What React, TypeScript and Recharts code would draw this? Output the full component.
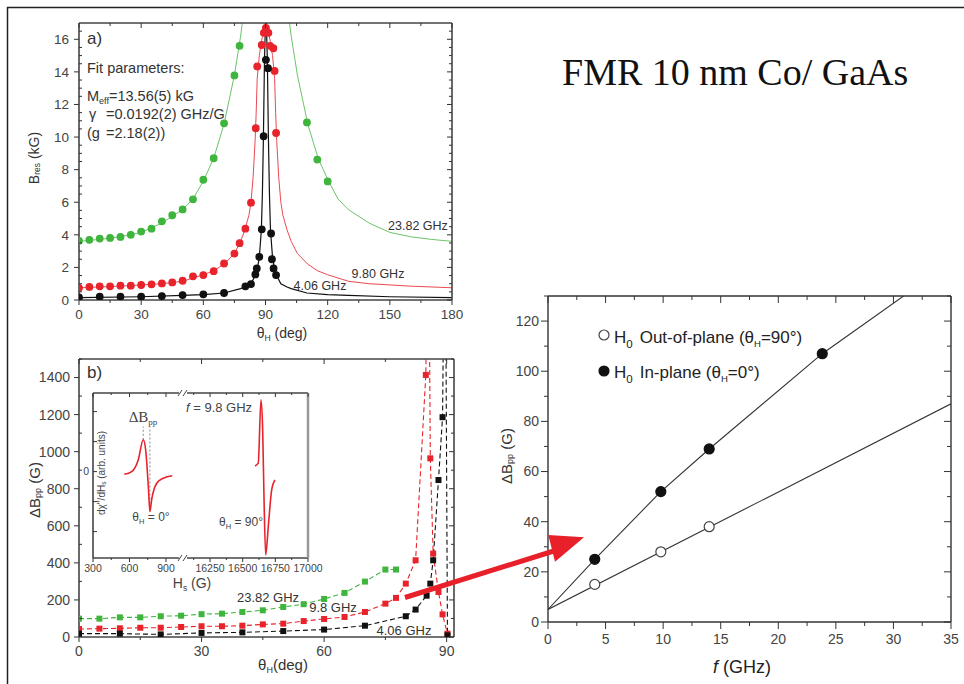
import React from 'react';
import { ComposedChart, Line, Scatter, XAxis, YAxis, ReferenceLine, Legend } from 'recharts';

const SANS = "'Liberation Sans', Arial, Helvetica, sans-serif";
const SERIF = "'Liberation Serif', 'Times New Roman', serif";

// ---------------- Panel a: B_res vs theta_H ----------------
const aGreenTheta = [0, 5, 10, 15, 20, 25, 30, 35, 40, 45, 50, 55, 60, 65, 70, 75, 77.5, 110, 115, 120];
const aGreenB = [3.63, 3.69, 3.77, 3.81, 3.87, 4.0, 4.2, 4.38, 4.83, 5.2, 5.56, 6.18, 7.38, 8.7, 10.84, 13.78, 15.6, 10.9, 8.62, 7.28];
const aGreenFitTheta = [0, 10, 20, 30, 40, 50, 55, 60, 65, 70, 75, 78, 79.3, 101.1, 102.4, 105.4, 110.4, 115.4, 120.4, 125, 130, 140, 150, 160, 170, 180];
const aGreenFitB = [3.6, 3.72, 3.88, 4.15, 4.72, 5.55, 6.2, 7.3, 8.7, 10.8, 13.8, 16.2, 17.5, 17.5, 16.2, 13.8, 10.8, 8.7, 7.3, 6.2, 5.55, 4.72, 4.15, 3.88, 3.72, 3.6];

const aRedTheta = [0, 5, 10, 15, 20, 25, 30, 35, 40, 45, 50, 55, 60, 65, 70, 75, 77.5, 80.3, 83, 85.3, 86, 88.2, 89.2, 90.2, 91.4, 92.2, 93.8, 94.4, 95.1];
const aRedB = [0.75, 0.8, 0.84, 0.84, 0.88, 0.88, 0.92, 0.96, 1.02, 1.08, 1.18, 1.45, 1.53, 1.77, 2.24, 2.85, 3.49, 4.38, 5.97, 10.54, 14.33, 15.65, 16.4, 16.7, 16.4, 15.6, 15.45, 14.06, 10.25];
const aRedFitTheta = [0, 20, 40, 50, 55, 60, 65, 70, 75, 78, 80, 82, 83, 84, 85, 85.5, 86, 87, 88, 89, 90.2, 91.4, 92.4, 93.4, 94.4, 94.9, 95.4, 96.4, 97.4, 98.4, 100.4, 102.4, 105.4, 110.4, 115, 120, 125, 130, 140, 160, 180];
const aRedFitB = [0.75, 0.85, 1.0, 1.15, 1.35, 1.55, 1.8, 2.2, 2.85, 3.6, 4.3, 5.2, 6.0, 7.5, 9.8, 11.5, 13.6, 15.0, 15.8, 16.5, 16.9, 16.5, 15.8, 15.0, 13.6, 11.5, 9.8, 7.5, 6.0, 5.2, 4.3, 3.6, 2.85, 2.2, 1.8, 1.55, 1.35, 1.15, 1.0, 0.85, 0.75];

const aBlackTheta = [0, 10, 20, 30, 40, 50, 60, 70, 80.3, 83, 85.1, 85.8, 87, 88.2, 89.1, 90.2, 91.2, 92.7, 93.1, 93.9, 95.1];
const aBlackB = [0.16, 0.2, 0.2, 0.2, 0.24, 0.3, 0.35, 0.43, 0.84, 0.98, 1.57, 1.94, 2.65, 4.34, 10.05, 14.74, 14.23, 4.08, 2.5, 1.94, 1.53];
const aBlackFitTheta = [0, 30, 50, 60, 70, 78, 80, 83, 85, 86, 87, 88, 88.5, 89, 89.5, 90.2, 90.9, 91.4, 91.9, 92.4, 93.4, 94.4, 95.4, 97.4, 100.4, 102.4, 110, 120, 130, 150, 180];
const aBlackFitB = [0.15, 0.2, 0.28, 0.33, 0.43, 0.7, 0.8, 1.0, 1.5, 1.9, 2.6, 4.3, 6.5, 10, 14.7, 18, 14.7, 10, 6.5, 4.3, 2.6, 1.9, 1.5, 1.0, 0.8, 0.7, 0.43, 0.33, 0.28, 0.2, 0.15];

const aXMajor = [0, 30, 60, 90, 120, 150, 180];
const aXTicks = [0, 15, 30, 45, 60, 75, 90, 105, 120, 135, 150, 165, 180];
const aYMajor = [0, 2, 4, 6, 8, 10, 12, 14, 16];
const aYTicks = [0, 0.5, 1, 1.5, 2, 2.5, 3, 3.5, 4, 4.5, 5, 5.5, 6, 6.5, 7, 7.5, 8, 8.5, 9, 9.5, 10, 10.5, 11, 11.5, 12, 12.5, 13, 13.5, 14, 14.5, 15, 15.5, 16, 16.5];

// ---------------- Panel b: linewidth vs theta_H ----------------
const bGreenTheta = [0, 5, 10, 15, 20, 25, 30, 35, 40, 45, 50, 55, 60, 65, 70, 75, 77.6];
const bGreenVal = [99, 99, 106, 106, 112, 115, 123, 126, 135, 144, 162, 177, 205, 238, 299, 364, 364];

const bRedTheta = [0, 5, 10, 15, 20, 25, 30, 35, 40, 45, 50, 55, 60, 65, 70, 75, 77.6, 80, 82.4, 84.9, 86, 86.7, 88, 89, 90.2];
const bRedVal = [43, 45, 47, 50, 50, 54, 58, 58, 61, 68, 72, 86, 97, 108, 135, 180, 211, 288, 414, 1414, 964, 450, 243, 122, 18];
const bRedPeakTheta = [85.5];
const bRedPeakVal = [2600];

const bBlackTheta = [0, 10, 20, 30, 40, 50, 60, 70, 80, 82.4, 85.1, 86, 86.7, 88, 89, 90.2];
const bBlackVal = [18, 18, 14, 22, 25, 32, 40, 61, 112, 148, 223, 288, 414, 847, 1186, 9];
const bBlackPeakTheta = [89.6];
const bBlackPeakVal = [2600];

const bXMajor = [0, 30, 60, 90];
const bXTicks = [0, 15, 30, 45, 60, 75, 90];
const bYMajor = [0, 200, 400, 600, 800, 1000, 1200, 1400];
const bYTicks = [0, 100, 200, 300, 400, 500, 600, 700, 800, 900, 1000, 1100, 1200, 1300, 1400, 1500];

// ---------------- Panel b inset: derivative spectra ----------------
const insLeftH = [557, 618, 672, 713, 733, 755, 768, 782, 824, 878, 952];
const insLeftS = [-0.09, 0.0, 0.39, 1.06, 0.72, -0.5, -1.33, -0.94, -0.39, -0.22, -0.14];
const insRightH = [16594, 16619, 16640, 16653, 16663, 16676, 16696, 16722, 16747];
const insRightS = [0.19, 0.28, 2.39, 1.39, -0.83, -2.78, -1.83, -0.61, -0.28];
const insLeftMajor = [300, 600, 900];
const insLeftTicks = [300, 450, 600, 750, 900];
const insRightMajor = [16250, 16500, 16750, 17000];
const insRightTicks = [16125, 16250, 16375, 16500, 16625, 16750, 16875, 17000];
const insYTicks = [-2, -1, 0, 1, 2];
const insPeakH = 713;
const insTroughH = 768;

// ---------------- Panel c: linewidth vs frequency ----------------
const cInFreq = [4.06, 9.8, 14.0, 23.82];
const cInDB = [25, 52, 69, 107];
const cOutFreq = [4.06, 9.8, 14.0];
const cOutDB = [15, 28, 38];
const cInFitFreq = [0, 4.06, 9.8, 14.0, 23.82, 31.5];
const cInFitDB = [5, 25, 52, 69, 107, 132];
const cOutFitFreq = [0, 35];
const cOutFitDB = [5, 87];
const cXMajor = [0, 5, 10, 15, 20, 25, 30, 35];
const cXTicks = [0, 2.5, 5, 7.5, 10, 12.5, 15, 17.5, 20, 22.5, 25, 27.5, 30, 32.5, 35];
const cYMajor = [0, 20, 40, 60, 80, 100, 120];
const cYTicks = [0, 10, 20, 30, 40, 50, 60, 70, 80, 90, 100, 110, 120, 130];

const pts = (xs: number[], ys: number[]) => xs.map((x, i) => ({ x, y: ys[i] }));
const merged = (xs: number[], ys: number[], px: number[], py: number[]) =>
  [...pts(xs, ys), ...pts(px, py)].sort((a, b) => a.x - b.x);

type Side = 'left' | 'right' | 'top' | 'bottom';
interface TickOpts { labels?: boolean; fontSize?: number; fill?: string; gap?: number; only?: number[]; stroke?: string; }
const near = (a: number, b: number) => Math.abs(a - b) < 1e-6;

function makeTick(side: Side, majors: number[], majorLen: number, minorLen: number, o: TickOpts = {}) {
  const { labels = true, fontSize = 13.5, fill = '#444', gap = 3, only, stroke = '#333' } = o;
  return (props: any) => {
    const x = Number(props.x);
    const y = Number(props.y);
    const v = Number(props.payload ? props.payload.value : NaN);
    const major = majors.some((m) => near(m, v));
    const len = major ? majorLen : minorLen;
    const show = labels && major && (!only || only.some((m) => near(m, v)));
    const out = Math.max(len, 0);
    const tp = { fontFamily: SANS, fontSize, fill };
    if (side === 'left') {
      return (
        <g>
          <line x1={x} y1={y} x2={x - len} y2={y} stroke={stroke} strokeWidth={1} />
          {show && <text x={x - out - gap} y={y} dy="0.35em" textAnchor="end" {...tp}>{v}</text>}
        </g>
      );
    }
    if (side === 'right') {
      return (
        <g>
          <line x1={x} y1={y} x2={x + len} y2={y} stroke={stroke} strokeWidth={1} />
          {show && <text x={x + out + gap} y={y} dy="0.35em" textAnchor="start" {...tp}>{v}</text>}
        </g>
      );
    }
    if (side === 'top') {
      return (
        <g>
          <line x1={x} y1={y} x2={x} y2={y - len} stroke={stroke} strokeWidth={1} />
          {show && <text x={x} y={y - out - gap} textAnchor="middle" {...tp}>{v}</text>}
        </g>
      );
    }
    return (
      <g>
        <line x1={x} y1={y} x2={x} y2={y + len} stroke={stroke} strokeWidth={1} />
        {show && <text x={x} y={y + out + gap} dy="0.71em" textAnchor="middle" {...tp}>{v}</text>}
      </g>
    );
  };
}

const dotShape = (r: number, fill: string, stroke?: string) => (p: any) => (
  <circle cx={p.cx} cy={p.cy} r={r} fill={fill} stroke={stroke || fill} strokeWidth={1.2} />
);
const squareShape = (s: number, fill: string) => (p: any) => (
  <rect x={p.cx - s / 2} y={p.cy - s / 2} width={s} height={s} fill={fill} />
);

const axisA = { stroke: '#444', strokeWidth: 1.6 };
const axisC = { stroke: '#333', strokeWidth: 1.4 };
const common = { tickSize: 0, tickMargin: 0, tickLine: false, interval: 0 as const, allowDataOverflow: true };

const GREEN_L = '#6cc46a';
const GREEN_D = '#3fb53d';
const RED_L = '#ea4a50';
const RED_D = '#e8232b';
const BLACK = '#111';

function PanelA() {
  return (
    <ComposedChart width={470} height={345} margin={{ top: 23, right: 18, bottom: 20, left: 0 }}>
      <XAxis type="number" dataKey="x" domain={[0, 180]} ticks={aXTicks} height={25} axisLine={axisA}
        tick={makeTick('bottom', aXMajor, 5, 3, { gap: 4 })} {...common} />
      <XAxis xAxisId="top" orientation="top" mirror type="number" dataKey="x" domain={[0, 180]} ticks={aXTicks} height={5}
        axisLine={axisA} tick={makeTick('top', aXMajor, -5, -3, { labels: false })} {...common} />
      <YAxis type="number" dataKey="y" domain={[0, 17]} ticks={aYTicks} width={79} axisLine={axisA}
        tick={makeTick('left', aYMajor, 5, -3, { gap: 5 })} {...common} />
      <YAxis yAxisId="right" orientation="right" mirror type="number" dataKey="y" domain={[0, 17]} ticks={aYTicks} width={5}
        axisLine={axisA} tick={makeTick('right', aYMajor, -5, -3, { labels: false })} {...common} />
      <Line data={pts(aGreenFitTheta, aGreenFitB)} dataKey="y" stroke={GREEN_L} strokeWidth={1} dot={false} isAnimationActive={false} />
      <Line data={pts(aRedFitTheta, aRedFitB)} dataKey="y" stroke={RED_L} strokeWidth={1} dot={false} isAnimationActive={false} />
      <Line data={pts(aBlackFitTheta, aBlackFitB)} dataKey="y" stroke={BLACK} strokeWidth={1.2} dot={false} isAnimationActive={false} />
      <Scatter data={pts(aGreenTheta, aGreenB)} dataKey="y" shape={dotShape(3.3, GREEN_D)} isAnimationActive={false} />
      <Scatter data={pts(aRedTheta, aRedB)} dataKey="y" shape={dotShape(3.3, RED_D)} isAnimationActive={false} />
      <Scatter data={pts(aBlackTheta, aBlackB)} dataKey="y" shape={dotShape(3.3, BLACK)} isAnimationActive={false} />
    </ComposedChart>
  );
}

function PanelB() {
  return (
    <ComposedChart width={470} height={339} margin={{ top: 14, right: 16, bottom: 22, left: 0 }}>
      <XAxis type="number" dataKey="x" domain={[0, 91.8]} ticks={bXTicks} height={25} axisLine={axisA}
        tick={makeTick('bottom', bXMajor, 5, 3, { gap: 4, fontSize: 14 })} {...common} />
      <XAxis xAxisId="top" orientation="top" mirror type="number" dataKey="x" domain={[0, 91.8]} ticks={bXTicks} height={5}
        axisLine={axisA} tick={makeTick('top', bXMajor, -5, -3, { labels: false })} {...common} />
      <YAxis type="number" dataKey="y" domain={[0, 1500]} ticks={bYTicks} width={79} axisLine={axisA}
        tick={makeTick('left', bYMajor, 5, -3, { gap: 4, fontSize: 14 })} {...common} />
      <YAxis yAxisId="right" orientation="right" mirror type="number" dataKey="y" domain={[0, 1500]} ticks={bYTicks} width={5}
        axisLine={axisA} tick={makeTick('right', bYMajor, -5, -3, { labels: false })} {...common} />
      <Line data={pts(bGreenTheta, bGreenVal)} dataKey="y" stroke={GREEN_D} strokeWidth={1.1} strokeDasharray="5 3" dot={false} isAnimationActive={false} />
      <Line data={merged(bRedTheta, bRedVal, bRedPeakTheta, bRedPeakVal)} dataKey="y" stroke={RED_D} strokeWidth={1.1} strokeDasharray="5 3" dot={false} isAnimationActive={false} />
      <Line data={merged(bBlackTheta, bBlackVal, bBlackPeakTheta, bBlackPeakVal)} dataKey="y" stroke={BLACK} strokeWidth={1.1} strokeDasharray="5 3" dot={false} isAnimationActive={false} />
      <Scatter data={pts(bGreenTheta, bGreenVal)} dataKey="y" shape={squareShape(6, GREEN_D)} isAnimationActive={false} />
      <Scatter data={pts(bRedTheta, bRedVal)} dataKey="y" shape={squareShape(6, RED_D)} isAnimationActive={false} />
      <Scatter data={pts(bBlackTheta, bBlackVal)} dataKey="y" shape={squareShape(6, BLACK)} isAnimationActive={false} />
    </ComposedChart>
  );
}

function InsetLeft() {
  return (
    <ComposedChart width={123} height={215} margin={{ top: 8, right: 0, bottom: 22, left: 0 }}>
      <XAxis type="number" dataKey="x" domain={[300, 1040]} ticks={insLeftTicks} height={20} axisLine={axisA}
        tick={makeTick('bottom', insLeftMajor, 4, 2, { gap: 3, fontSize: 10.5 })} {...common} />
      <XAxis xAxisId="top" orientation="top" mirror type="number" dataKey="x" domain={[300, 1040]} ticks={insLeftTicks} height={5}
        axisLine={axisA} tick={makeTick('top', insLeftMajor, -4, -2, { labels: false })} {...common} />
      <YAxis type="number" dataKey="y" domain={[-2.88, 2.62]} ticks={insYTicks} width={33} axisLine={axisA}
        tick={makeTick('left', insYTicks, -4, -4, { gap: 4, fontSize: 10.5, only: [0] })} {...common} />
      <ReferenceLine segment={[{ x: insPeakH, y: 1.06 }, { x: insPeakH, y: 1.5 }]} stroke="#888" strokeDasharray="2 2" ifOverflow="visible" />
      <ReferenceLine segment={[{ x: insTroughH, y: -1.33 }, { x: insTroughH, y: 1.5 }]} stroke="#888" strokeDasharray="2 2" ifOverflow="visible" />
      <Line data={pts(insLeftH, insLeftS)} dataKey="y" type="monotone" stroke={RED_D} strokeWidth={1.6} dot={false} isAnimationActive={false} />
    </ComposedChart>
  );
}

function InsetRight() {
  return (
    <ComposedChart width={140} height={215} margin={{ top: 8, right: 15, bottom: 22, left: 0 }}>
      <XAxis type="number" dataKey="x" domain={[16043, 17000]} ticks={insRightTicks} height={20} axisLine={axisA}
        tick={makeTick('bottom', insRightMajor, 4, 2, { gap: 3, fontSize: 10.5 })} {...common} />
      <XAxis xAxisId="top" orientation="top" mirror type="number" dataKey="x" domain={[16043, 17000]} ticks={insRightTicks} height={5}
        axisLine={axisA} tick={makeTick('top', insRightMajor, -4, -2, { labels: false })} {...common} />
      <YAxis type="number" dataKey="y" domain={[-2.88, 2.62]} hide allowDataOverflow />
      <YAxis yAxisId="right" orientation="right" mirror type="number" dataKey="y" domain={[-2.88, 2.62]} ticks={insYTicks} width={5}
        axisLine={{ stroke: '#999', strokeWidth: 2.5 }} tick={makeTick('right', insYTicks, 0, 0, { labels: false })} {...common} />
      <Line data={pts(insRightH, insRightS)} dataKey="y" type="monotone" stroke={RED_D} strokeWidth={1.6} dot={false} isAnimationActive={false} />
    </ComposedChart>
  );
}

function LegendC() {
  const ts = { fontFamily: SANS, fontSize: 17, fill: '#222' };
  return (
    <svg width={260} height={64} style={{ display: 'block', overflow: 'visible' }}>
      <circle cx={9} cy={13} r={5} fill="#fff" stroke="#444" strokeWidth={1.2} />
      <text x={19} y={21} {...ts}>
        <tspan>H</tspan><tspan fontSize={11.5} dy={5}>0</tspan><tspan dy={-5} dx={7}>Out-of-plane (θ</tspan>
        <tspan fontSize={9.5} dy={4}>H</tspan><tspan dy={-4}>=90°)</tspan>
      </text>
      <circle cx={9} cy={49} r={5} fill="#111" stroke="#111" strokeWidth={1.2} />
      <text x={19} y={56} {...ts}>
        <tspan>H</tspan><tspan fontSize={11.5} dy={5}>0</tspan><tspan dy={-5} dx={7}>In-plane (θ</tspan>
        <tspan fontSize={9.5} dy={4}>H</tspan><tspan dy={-4}>=0°)</tspan>
      </text>
    </svg>
  );
}

function PanelC() {
  return (
    <ComposedChart width={474} height={404} margin={{ top: 16, right: 13, bottom: 32, left: 10 }}>
      <XAxis type="number" dataKey="x" domain={[0, 35]} ticks={cXTicks} height={30} axisLine={axisC}
        tick={makeTick('bottom', cXMajor, 7, 4, { gap: 5, fontSize: 14 })} {...common} />
      <XAxis xAxisId="top" orientation="top" mirror type="number" dataKey="x" domain={[0, 35]} ticks={cXTicks} height={5}
        axisLine={axisC} tick={makeTick('top', cXMajor, -7, -4, { labels: false })} {...common} />
      <YAxis type="number" dataKey="y" domain={[0, 130]} ticks={cYTicks} width={48} axisLine={axisC}
        tick={makeTick('left', cYMajor, 7, 4, { gap: 2, fontSize: 14 })} {...common} />
      <YAxis yAxisId="right" orientation="right" mirror type="number" dataKey="y" domain={[0, 130]} ticks={cYTicks} width={5}
        axisLine={axisC} tick={makeTick('right', cYMajor, -7, -4, { labels: false })} {...common} />
      <Line data={pts(cInFitFreq, cInFitDB)} dataKey="y" stroke="#333" strokeWidth={1.1} dot={false} isAnimationActive={false} />
      <Line data={pts(cOutFitFreq, cOutFitDB)} dataKey="y" stroke="#333" strokeWidth={1.1} dot={false} isAnimationActive={false} />
      <Scatter data={pts(cInFreq, cInDB)} dataKey="y" shape={dotShape(5, '#111', '#111')} isAnimationActive={false} />
      <Scatter data={pts(cOutFreq, cOutDB)} dataKey="y" shape={dotShape(5, '#fff', '#444')} isAnimationActive={false} />
      <Legend layout="vertical" align="center" verticalAlign="middle"
        wrapperStyle={{ position: 'absolute', left: 105, top: 42, width: 260, height: 64 }}
        content={() => <LegendC />} />
    </ComposedChart>
  );
}

const sub = (s: string, fs: number, d: number) => [
  <tspan key="a" fontSize={fs} dy={d}>{s}</tspan>,
];

function Overlay() {
  const t = { fontFamily: SANS, fill: '#333' };
  return (
    <svg width={964} height={684} style={{ position: 'absolute', left: 0, top: 0, pointerEvents: 'none' }}>
      {/* frame */}
      <line x1={7} y1={7.5} x2={964} y2={7.5} stroke="#222" strokeWidth={1.5} />
      <line x1={7.5} y1={7} x2={7.5} y2={684} stroke="#222" strokeWidth={1.5} />

      {/* title */}
      <text x={562} y={85} fontFamily={SERIF} fontSize={38} fill="#111">FMR 10 nm Co/ GaAs</text>

      {/* panel a annotations */}
      <text x={87} y={44} fontSize={17} {...t}>a)</text>
      <text x={87} y={73} fontSize={14.5} {...t}>Fit parameters:</text>
      <text x={87} y={101} fontSize={14.5} {...t}>
        <tspan>M</tspan>{sub('eff', 9, 3)}<tspan dy={-3}>=13.56(5) kG</tspan>
      </text>
      <text x={89} y={119} fontSize={14.5} {...t}>γ</text>
      <text x={106} y={119} fontSize={14.5} {...t}>=0.0192(2) GHz/G</text>
      <text x={87} y={138} fontSize={14.5} {...t}>(g</text>
      <text x={106} y={138} fontSize={14.5} {...t}>=2.18(2))</text>
      <text x={418} y={230} fontSize={12.5} textAnchor="middle" {...t}>23.82 GHz</text>
      <text x={378} y={278} fontSize={12.5} textAnchor="middle" {...t}>9.80 GHz</text>
      <text x={320} y={290} fontSize={12.5} textAnchor="middle" {...t}>4.06 GHz</text>
      <text x={35} y={158} fontSize={14} textAnchor="middle" dominantBaseline="middle" transform="rotate(-90 35 158)" {...t}>
        <tspan>B</tspan>{sub('res', 8.5, 3)}<tspan dy={-3}> (kG)</tspan>
      </text>
      <text x={282} y={338} fontSize={14} textAnchor="middle" {...t}>
        <tspan>θ</tspan>{sub('H', 8.5, 3)}<tspan dy={-3}> (deg)</tspan>
      </text>

      {/* panel b annotations */}
      <text x={87} y={378} fontSize={17} {...t}>b)</text>
      <text x={268} y={602} fontSize={13} textAnchor="middle" {...t}>23.82 GHz</text>
      <text x={333} y={612} fontSize={13} textAnchor="middle" {...t}>9.8 GHz</text>
      <text x={404} y={635} fontSize={13} textAnchor="middle" {...t}>4.06 GHz</text>
      <text x={36} y={490} fontSize={15} textAnchor="middle" dominantBaseline="middle" transform="rotate(-90 36 490)" {...t}>
        <tspan>ΔB</tspan>{sub('pp', 9, 3)}<tspan dy={-3}> (G)</tspan>
      </text>
      <text x={283} y={670} fontSize={15} textAnchor="middle" {...t}>
        <tspan>θ</tspan>{sub('H', 9, 3)}<tspan dy={-3}>(deg)</tspan>
      </text>

      {/* inset annotations */}
      <rect x={179} y={389} width={8} height={8} fill="#fff" />
      <rect x={179} y={554} width={8} height={8} fill="#fff" />
      <line x1={178} y1={396} x2={182} y2={390} stroke="#444" strokeWidth={1} />
      <line x1={183} y1={396} x2={187} y2={390} stroke="#444" strokeWidth={1} />
      <line x1={178} y1={561} x2={182} y2={555} stroke="#444" strokeWidth={1} />
      <line x1={183} y1={561} x2={187} y2={555} stroke="#444" strokeWidth={1} />
      <text x={143} y={422} fontFamily={SERIF} fontSize={15} fill="#444" textAnchor="middle">
        <tspan>ΔB</tspan>{sub('pp', 9, 3)}
      </text>
      <text x={186} y={412} fontFamily={SANS} fontSize={13} fill="#444">
        <tspan fontStyle="italic">f</tspan><tspan> = 9.8 GHz</tspan>
      </text>
      <text x={151} y={521} fontFamily={SANS} fontSize={12} fill="#444" textAnchor="middle">
        <tspan>θ</tspan>{sub('H', 7.5, 3)}<tspan dy={-3}> = 0°</tspan>
      </text>
      <text x={241} y={526} fontFamily={SANS} fontSize={12} fill="#444" textAnchor="middle">
        <tspan>θ</tspan>{sub('H', 7.5, 3)}<tspan dy={-3}> = 90°</tspan>
      </text>
      <text x={192} y={588} fontFamily={SANS} fontSize={14} fill="#444" textAnchor="middle">
        <tspan>H</tspan>{sub('s', 8.5, 3)}<tspan dy={-3}> (G)</tspan>
      </text>
      <text x={102} y={473} fontFamily={SANS} fontSize={10} fill="#444" textAnchor="middle" dominantBaseline="middle" transform="rotate(-90 102 473)">
        <tspan>dχ''/dH</tspan>{sub('s', 6.5, 2)}<tspan dy={-2}> (arb. units)</tspan>
      </text>

      {/* panel c titles */}
      <text x={508} y={456} fontFamily={SANS} fontSize={15} fill="#333" textAnchor="middle" dominantBaseline="middle" transform="rotate(-90 508 456)">
        <tspan>ΔB</tspan>{sub('pp', 9, 3)}<tspan dy={-3}> (G)</tspan>
      </text>
      <text x={742} y={673} fontFamily={SANS} fontSize={18} fill="#222" textAnchor="middle">
        <tspan fontStyle="italic">f</tspan><tspan> (GHz)</tspan>
      </text>

      {/* red arrow */}
      <line x1={405} y1={597.5} x2={557} y2={550} stroke="#e8202a" strokeWidth={5} />
      <polygon points="584,537.3 548.3,535 555,561.7" fill="#e8202a" />
    </svg>
  );
}

export default function App() {
  return (
    <div style={{ position: 'absolute', left: 0, top: 0, width: 964, height: 684, background: '#fff', overflow: 'hidden', fontFamily: SANS }}>
      <div style={{ position: 'absolute', left: 0, top: 0 }}><PanelA /></div>
      <div style={{ position: 'absolute', left: 0, top: 345 }}><PanelB /></div>
      <div style={{ position: 'absolute', left: 60, top: 385 }}><InsetLeft /></div>
      <div style={{ position: 'absolute', left: 183, top: 385 }}><InsetRight /></div>
      <div style={{ position: 'absolute', left: 490, top: 280 }}><PanelC /></div>
      <Overlay />
    </div>
  );
}
